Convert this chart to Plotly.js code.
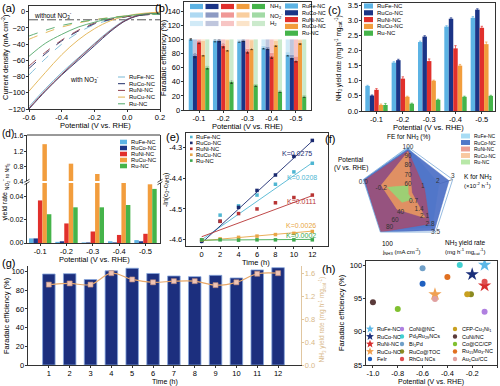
<!DOCTYPE html>
<html><head><meta charset="utf-8">
<script src="https://cdn.plot.ly/plotly-3.0.1.min.js"></script>
<style>html,body{margin:0;padding:0;background:#fff}#chart{width:500px;height:386px}</style>
</head><body><div id="chart"></div>
<script>
// ================= DATA =================
const series = ['RuFe-NC','RuCo-NC','RuNi-NC','RuCu-NC','Ru-NC'];
const potLabels = ['-0.1','-0.2','-0.3','-0.4','-0.5'];

// (a) LSV curves
const lsvV = [-0.6,-0.5,-0.4,-0.3,-0.2,-0.1,0.0,0.1,0.2];
const lsvWithRuFe = [-117,-95,-75,-57,-39,-22,-9,-3,-1.5];
const lsvWithRuCo = [-120,-98,-78,-60,-42,-24,-10,-3.5,-1.5];
const lsvWithRuNi = [-119,-97,-77,-58,-40,-23,-9.5,-3,-1.5];
const lsvWithRuCu = [-98,-75,-53,-35,-21,-11,-5,-2,-0.5];
const lsvWithRu   = [-55,-39,-28,-19,-13,-8,-5,-3,-2];
const lsvWithoutRuFe = [-78,-58,-40,-26,-16,-10,-6,-4,-3];
const lsvWithoutRuCo = [-70,-52,-36,-24,-15,-9.5,-6,-4,-3];
const lsvWithoutRuNi = [-67,-50,-35,-23,-14,-9,-6,-4,-3];
const lsvWithoutRuCu = [-34,-26,-19,-14,-10,-7,-5,-3.5,-2.5];
const lsvWithoutRu   = [-30,-23,-17,-13,-10,-7.5,-5.5,-4,-3];
const baselineV = [-0.6, 0.2];
const baselineJ = [-10, -10];

// (b) Faradaic efficiency
const feNH3RuFe = [100,98,97,88,78];
const feNH3RuCo = [77,98,98,87,74];
const feNH3RuNi = [96,91,83,76,70];
const feNH3RuCu = [78,85,87,92,95];
const feNH3Ru   = [60,40,35,26,19];
const feNO2RuFe = [0,1,1,3,4];
const feNO2RuCo = [3,1,1,3,4];
const feNO2RuNi = [2,3,4,5,6];
const feNO2RuCu = [20,14,12,6,4];
const feNO2Ru   = [3,2,2,2,2];
const feH2RuFe = [0,1,2,9,18];
const feH2RuCo = [20,1,1,10,22];
const feH2RuNi = [2,6,13,19,24];
const feH2RuCu = [2,1,1,2,1];
const feH2Ru   = [37,58,63,72,79];
const feErrRuFe = [1,1.5,1,1.5,1.5];
const feErrRuCo = [3,1.5,1,1.5,2];
const feErrRuNi = [2,3,2.5,3,2];
const feErrRuCu = [1.5,1.5,1.5,2,2];
const feErrRu   = [2,2.5,1.5,1,1];

// (c) NH3 yield rate
const yieldRuFe = [0.83,1.60,2.28,2.79,3.08];
const yieldRuCo = [0.51,1.68,2.46,3.05,3.35];
const yieldRuNi = [0.70,1.07,1.65,2.07,2.75];
const yieldRuCu = [0.20,0.47,1.00,1.50,2.21];
const yieldRu   = [0.20,0.24,0.37,0.47,0.50];
const yieldErrRuFe = [0.02,0.03,0.03,0.03,0.04];
const yieldErrRuCo = [0.02,0.03,0.03,0.03,0.03];
const yieldErrRuNi = [0.04,0.06,0.07,0.09,0.05];
const yieldErrRuCu = [0.03,0.02,0.02,0.04,0.07];
const yieldErrRu   = [0.05,0.02,0.02,0.02,0.02];

// (d) NO2- yield rate
const no2RuFe = [0.004,0.001,0.0005,0.0015,0.0025];
const no2RuCo = [0.004,0.0015,0.0005,0.0005,0.0015];
const no2RuNi = [0.037,0.017,0.010,0.007,0.008];
const no2RuCu = [1.38,0.87,0.60,0.41,0.051];
const no2Ru   = [0.025,0.031,0.031,0.033,0.047];

// (e) kinetics
const timeE = [0,2,4,6,8,10,12];
const lnRuFe = [-4.600,-4.520,-4.490,-4.455,-4.420,-4.380,-4.352];
const lnRuCo = [-4.605,-4.540,-4.495,-4.440,-4.390,-4.330,-4.278];
const lnRuNi = [-4.600,-4.540,-4.515,-4.500,-4.480,-4.463,-4.455];
const lnRuCu = [-4.600,-4.597,-4.592,-4.588,-4.583,-4.579,-4.573];
const lnRu   = [-4.600,-4.600,-4.601,-4.600,-4.600,-4.600,-4.600];
const kValues = [0.0208,0.0275,0.0111,0.0026,0.0002];
const kIntercepts = [-4.600,-4.610,-4.590,-4.603,-4.601];
const fitSpan = [0,12];

// (f) radar
const radarKeys = ['fe','k','yield','j','pot'];
const radarMin = [50,0,0,0,-0.5];
const radarMax = [100,3,3.5,100,0];
const radarRuFe = [100,2.08,3.08,95,0.0];
const radarRuCo = [98,2.75,3.35,100,0.0];
const radarRuNi = [96,1.11,2.75,100,-0.02];
const radarRuCu = [95,0.26,2.21,40,-0.2];
const radarRu   = [59,0.02,0.50,22,-0.27];
const radarTicksFE = [60,70,80,90,100];
const radarTicksK = [1,2,3];
const radarTicksYield = [0.7,1.4,2.1,2.8,3.5];
const radarTicksJ = [40,60,80];
const radarTicksPot = [-0.2,0.0];

// (g) stability
const cycles = [1,2,3,4,5,6,7,8,9,10,11,12];
const cycleFE = [97.4,97.8,91.5,100.8,103.6,98.0,95.3,94.6,96.0,93.2,101.8,104.2];
const cycleYield = [1.41,1.43,1.41,1.61,1.50,1.45,1.47,1.47,1.40,1.45,1.60,1.61];

// (h) comparison
const refNames = ['RuFe-NC','RuCo-NC','RuNi-NC','RuCu-NC','FeIr','CoNi@NC','Pd<sub>3</sub>Ru<sub>29</sub>NCs','Bi<sub>1</sub>Pd','RuCo@TOC','RhCu NCs','CFP-Cu<sub>1</sub>Ni<sub>1</sub>','CuNi/NC','Co@CC/CP','Ru<sub>15</sub>Mo<sub>3</sub>-NC','Au<sub>1</sub>Cu/CC'];
const refPotential = [-0.1,-0.2,-0.1,-0.5,-0.6,-0.1,-0.3,-0.6,-0.21,-0.1,-0.24,-1.0,-0.8,-0.4,-0.5];
const refFE = [100,98.6,96.9,95.6,97.2,93.0,100,99.5,95.6,97.5,95.6,94.4,93.4,98.2,94.9];

// ================= STYLE / LAYOUT HELPERS =================
const W = 500, H = 386;
const px = v => v / W;
const py = v => 1 - v / H;
const xd = (a, b) => [px(a), px(b)];
const yd = (top, bottom) => [py(bottom), py(top)];
const FONT = 'Liberation Sans, Arial, sans-serif';

const barColors = ['#5cb3e4','#1b3486','#e1302c','#f29d3d','#45b44a'];
const lsvColors = ['#79b9d6','#1f2d68','#8e3d4c','#e2b24e','#52a86a'];
const kinColors = ['#4fb6d2','#1a2a70','#b83434','#e8a646','#3ea84e'];
const radarFill = ['rgba(160,214,240,0.95)','rgba(72,108,196,0.9)','rgba(196,60,78,0.6)','rgba(242,160,92,0.8)','rgba(150,214,118,0.9)'];
const radarLegend = ['#a8dcf4','#5078c8','#eca094','#f8c8a0','#b8e8a8'];
const refColors = ['#5cb8e8','#1a2f7a','#d62e2e','#f0a050','#2060c0','#b080e0','#40d0d0','#70a0c8','#8a8a20','#e05050','#c8a020','#5a3a3a','#80c030','#e07020','#e0a0a0'];
const refSymbols = ['star','star','star','star','circle','circle','circle','circle','circle','circle','circle','circle','circle','circle','circle'];
const TAN = '#d8b888';

function tint(hex, f) {
  const n = parseInt(hex.slice(1), 16);
  const c = [(n >> 16) & 255, (n >> 8) & 255, n & 255].map(v => Math.round(v + (255 - v) * f));
  return `rgb(${c[0]},${c[1]},${c[2]})`;
}

const traces = [], shapes = [], annotations = [];

function label(text, x, y, opts = {}) {
  annotations.push(Object.assign({
    text, x: px(x), y: py(y), xref: 'paper', yref: 'paper', showarrow: false,
    xanchor: 'left', yanchor: 'middle', font: {size: 6, color: '#000', family: FONT}
  }, opts));
}
const xTitle = (t, x, y, size = 7.5) => label(t, x, y, {xanchor: 'center', font: {size, color: '#000', family: FONT}});
const yTitle = (t, x, y, size = 7.5, color = '#000') => label(t, x, y, {xanchor: 'center', textangle: -90, font: {size, color, family: FONT}});

function legendBlock(names, colors, kind, x0, y0, dy, sw, fs) {
  names.forEach((nm, i) => {
    const y = y0 + i * dy;
    if (kind === 'line') {
      shapes.push({type: 'line', xref: 'paper', yref: 'paper', x0: px(x0), x1: px(x0 + sw), y0: py(y), y1: py(y), line: {color: colors[i], width: 1}});
    } else if (kind === 'rect') {
      shapes.push({type: 'rect', xref: 'paper', yref: 'paper', x0: px(x0), x1: px(x0 + sw), y0: py(y + dy * 0.38), y1: py(y - dy * 0.38), fillcolor: colors[i], line: {width: 0}});
    } else if (kind === 'dot') {
      shapes.push({type: 'rect', xref: 'paper', yref: 'paper', x0: px(x0), x1: px(x0 + sw), y0: py(y + sw / 2), y1: py(y - sw / 2), fillcolor: colors[i], line: {width: 0}});
    }
    label(nm, x0 + sw + 1.5, y, {font: {size: fs, color: '#000', family: FONT}});
  });
}

function starPath(cx, cy, R) {
  let d = '';
  for (let k = 0; k < 10; k++) {
    const a = (-90 + k * 36) * Math.PI / 180, r = k % 2 ? R * 0.42 : R;
    d += (k ? ' L ' : 'M ') + px(cx + r * Math.cos(a)).toFixed(5) + ',' + py(cy + r * Math.sin(a)).toFixed(5);
  }
  return d + ' Z';
}

function axis(o) {
  return Object.assign({
    showline: true, linecolor: '#000', linewidth: 0.8, mirror: true,
    ticks: 'outside', ticklen: 2.5, tickwidth: 0.8, tickcolor: '#000', ticklabelstandoff: -1,
    showgrid: false, zeroline: false, tickfont: {size: 7.5, color: '#000', family: FONT}
  }, o);
}

// ================= (a) LSV =================
const lsvWith = [lsvWithRuFe, lsvWithRuCo, lsvWithRuNi, lsvWithRuCu, lsvWithRu];
const lsvWithout = [lsvWithoutRuFe, lsvWithoutRuCo, lsvWithoutRuNi, lsvWithoutRuCu, lsvWithoutRu];
traces.push({type: 'scatter', mode: 'lines', x: baselineV, y: baselineJ, xaxis: 'x', yaxis: 'y',
  line: {color: '#555', width: 1, dash: 'dashdot'}, showlegend: false, hoverinfo: 'skip'});
series.forEach((s, i) => {
  traces.push({type: 'scatter', mode: 'lines', name: s + ' without NO3-', x: lsvV, y: lsvWithout[i], xaxis: 'x', yaxis: 'y',
    line: {color: lsvColors[i], width: 0.9, dash: 'dash', shape: 'spline'}, showlegend: false});
});
series.forEach((s, i) => {
  traces.push({type: 'scatter', mode: 'lines', name: s, x: lsvV, y: lsvWith[i], xaxis: 'x', yaxis: 'y',
    line: {color: lsvColors[i], width: 0.9, shape: 'spline'}, showlegend: false});
});

// ================= (b) FE stacked+grouped =================
const feNH3 = [feNH3RuFe, feNH3RuCo, feNH3RuNi, feNH3RuCu, feNH3Ru];
const feNO2 = [feNO2RuFe, feNO2RuCo, feNO2RuNi, feNO2RuCu, feNO2Ru];
const feH2 = [feH2RuFe, feH2RuCo, feH2RuNi, feH2RuCu, feH2Ru];
const feErr = [feErrRuFe, feErrRuCo, feErrRuNi, feErrRuCu, feErrRu];
series.forEach((s, i) => {
  const base2 = feNH3[i].map((v, k) => v + feNO2[i][k]);
  traces.push({type: 'bar', name: s + ' NH3', x: potLabels, y: feNH3[i], xaxis: 'x2', yaxis: 'y2', offsetgroup: 'b' + i,
    marker: {color: barColors[i], line: {width: 0}}, showlegend: false,
    error_y: {type: 'data', array: feErr[i], thickness: 0.7, width: 1.2, color: '#222'}});
  traces.push({type: 'bar', name: s + ' NO2-', x: potLabels, y: feNO2[i], base: feNH3[i], xaxis: 'x2', yaxis: 'y2', offsetgroup: 'b' + i,
    marker: {color: tint(barColors[i], 0.5), line: {width: 0}}, showlegend: false});
  traces.push({type: 'bar', name: s + ' H2', x: potLabels, y: feH2[i], base: base2, xaxis: 'x2', yaxis: 'y2', offsetgroup: 'b' + i,
    marker: {color: tint(barColors[i], 0.72), line: {width: 0}}, showlegend: false});
});

// ================= (c) yield =================
const yields = [yieldRuFe, yieldRuCo, yieldRuNi, yieldRuCu, yieldRu];
const yieldErr = [yieldErrRuFe, yieldErrRuCo, yieldErrRuNi, yieldErrRuCu, yieldErrRu];
series.forEach((s, i) => {
  traces.push({type: 'bar', name: s, x: potLabels, y: yields[i], xaxis: 'x3', yaxis: 'y3',
    marker: {color: barColors[i], line: {width: 0}}, showlegend: false,
    error_y: {type: 'data', array: yieldErr[i], thickness: 0.7, width: 1.2, color: barColors[i]}});
});

// ================= (d) NO2- yield, broken axis =================
const no2 = [no2RuFe, no2RuCo, no2RuNi, no2RuCu, no2Ru];
series.forEach((s, i) => {
  traces.push({type: 'bar', name: s, x: potLabels, y: no2[i], xaxis: 'x4', yaxis: 'y4',
    marker: {color: barColors[i], line: {width: 0}}, showlegend: false});
  traces.push({type: 'bar', name: s, x: potLabels, y: no2[i], xaxis: 'x4', yaxis: 'y5',
    marker: {color: barColors[i], line: {width: 0}}, showlegend: false});
});

// ================= (e) kinetics =================
const lnSets = [lnRuFe, lnRuCo, lnRuNi, lnRuCu, lnRu];
series.forEach((s, i) => {
  traces.push({type: 'scatter', mode: 'lines', x: fitSpan, y: fitSpan.map(t => kIntercepts[i] + kValues[i] * t),
    xaxis: 'x5', yaxis: 'y6', line: {color: kinColors[i], width: 0.9}, showlegend: false, hoverinfo: 'skip'});
  traces.push({type: 'scatter', mode: 'markers', name: s, x: timeE, y: lnSets[i], xaxis: 'x5', yaxis: 'y6',
    marker: {color: kinColors[i], size: 3.5, symbol: 'square'}, showlegend: false});
});
const kLabelT = [10.9, 10.3, 10.8, 10.8, 10.8];
const kLabelY = [-4.398, -4.322, -4.476, -4.553, -4.585];
series.forEach((s, i) => {
  annotations.push({text: 'K=' + kValues[i].toFixed(4), x: kLabelT[i], y: kLabelY[i], xref: 'x5', yref: 'y6', showarrow: false,
    xanchor: 'center', yanchor: 'middle', font: {size: 7, color: kinColors[i], family: FONT}});
});

// ================= (f) radar =================
const radarSets = [radarRuFe, radarRuCo, radarRuNi, radarRuCu, radarRu];
const norm = (v, a) => (v - radarMin[a]) / (radarMax[a] - radarMin[a]);
series.forEach((s, i) => {
  const r = radarSets[i].map((v, a) => norm(v, a));
  traces.push({type: 'scatterpolar', mode: 'lines', name: s, r: r.concat([r[0]]), theta: radarKeys.concat([radarKeys[0]]),
    fill: 'toself', fillcolor: radarFill[i], line: {color: radarFill[i], width: 0.5}, showlegend: false});
});
const tickSets = [
  [radarTicksFE, 0, v => String(v), 'middle center'],
  [radarTicksK, 1, v => String(v), 'top center'],
  [radarTicksYield, 2, v => v.toFixed(1), 'middle center'],
  [radarTicksJ, 3, v => String(v), 'bottom right'],
  [radarTicksPot, 4, v => v.toFixed(1), 'bottom center']];
tickSets.forEach(([vals, a, f, pos]) => {
  traces.push({type: 'scatterpolar', mode: 'text', r: vals.map(v => norm(v, a)), theta: vals.map(() => radarKeys[a]),
    text: vals.map(f), textposition: pos,
    textfont: {size: 6.5, color: '#333', family: FONT}, showlegend: false, hoverinfo: 'skip', cliponaxis: false});
});

// ================= (g) stability =================
traces.push({type: 'bar', name: 'Faradaic efficiency', x: cycles, y: cycleFE, xaxis: 'x6', yaxis: 'y7', width: 0.6,
  marker: {color: '#1c2f7e', line: {color: '#86a6dc', width: 0.8}}, showlegend: false});
traces.push({type: 'scatter', mode: 'lines+markers', name: 'NH3 yield rate', x: cycles, y: cycleYield, xaxis: 'x6', yaxis: 'y8',
  line: {color: '#e8a868', width: 1.2, shape: 'spline'}, marker: {symbol: 'square', size: 5, color: '#f0c4b4', line: {color: '#b8887a', width: 0.6}}, showlegend: false});

// ================= (h) comparison =================
refNames.forEach((n, i) => {
  traces.push({type: 'scatter', mode: 'markers', name: n, x: [refPotential[i]], y: [refFE[i]], xaxis: 'x7', yaxis: 'y9',
    marker: {symbol: refSymbols[i], color: refColors[i], size: refSymbols[i] === 'star' ? 10 : 6, line: {width: 0}}, showlegend: false});
});

// ================= LEGENDS (custom, compact) =================
legendBlock(series, lsvColors, 'line', 118, 77, 6.7, 7, 6);
legendBlock(series, barColors, 'rect', 285, 6, 6.8, 13, 5.5);
legendBlock(series, barColors, 'rect', 364, 6, 6.8, 9, 6);
legendBlock(series, barColors, 'rect', 120, 142, 6.0, 7, 5.8);
legendBlock(series, kinColors, 'dot', 190, 137, 5.9, 2.6, 5.8);
legendBlock(series, radarLegend, 'rect', 461, 136, 6.5, 9, 5);
// (b) product swatch grid
const products = ['NH<sub>3</sub>', 'NO<sub>2</sub><sup>-</sup>', 'H<sub>2</sub>'];
const productTint = [0, 0.5, 0.72];
products.forEach((p, r) => {
  const yc = 6.5 + r * 8.5;
  barColors.forEach((c, j) => {
    const x0 = 190 + j * 15.5;
    shapes.push({type: 'rect', xref: 'paper', yref: 'paper', x0: px(x0), x1: px(x0 + 13), y0: py(yc + 2.6), y1: py(yc - 2.6),
      fillcolor: tint(c, productTint[r]), line: {width: 0}});
  });
  label(p, 268, yc, {font: {size: 6, color: '#000', family: FONT}});
});
// (h) three-column legend (symbols drawn as shapes)
const hCols = [370, 402, 455];
refNames.forEach((n, i) => {
  const col = Math.floor(i / 5), row = i % 5;
  const x = hCols[col], y = 329 + row * 7.5;
  if (refSymbols[i] === 'star') {
    shapes.push({type: 'path', xref: 'paper', yref: 'paper', path: starPath(x, y, 4.2), fillcolor: refColors[i], line: {width: 0}});
  } else {
    shapes.push({type: 'circle', xref: 'paper', yref: 'paper', x0: px(x - 2.2), x1: px(x + 2.2), y0: py(y + 2.2), y1: py(y - 2.2), fillcolor: refColors[i], line: {width: 0}});
  }
  label(n, x + 4.5, y, {font: {size: 5.5, color: '#000', family: FONT}});
});

// ================= TEXT LABELS =================
const panelNames = ['(a)', '(b)', '(c)', '(d)', '(e)', '(f)', '(g)', '(h)'];
const panelPos = [[0, 0], [153, 0], [326, 2], [0, 126], [164, 129], [323, 131], [0, 255], [320, 261]];
panelNames.forEach((t, i) => {
  label(t, panelPos[i][0], panelPos[i][1], {yanchor: 'top', font: {size: i === 3 ? 10 : 11, color: '#000', family: FONT}});
});
label('without NO<sub>3</sub><sup>-</sup>', 32, 15, {font: {size: 6.5, color: '#000', family: FONT}});
label('with NO<sub>3</sub><sup>-</sup>', 68, 79, {font: {size: 6.5, color: '#000', family: FONT}});

// axis titles
xTitle('Potential (V vs. RHE)', 95, 125.5);
yTitle('Current density (mA cm<sup>-2</sup>)', 5, 57, 7.5);
xTitle('Potential (V vs. RHE)', 247, 126.5);
yTitle('Faradaic efficiency (%)', 164, 58);
xTitle('Potential (V vs. RHE)', 428, 127);
yTitle('NH<sub>3</sub> yield rate (mg h<sup>-1</sup> mg<sub>cat</sub><sup>-1</sup>)', 339, 58, 6.5);
xTitle('Potential (V vs. RHE)', 94, 259.5);
yTitle('yield rate <sub>NO<sub>2</sub></sub><sup>-</sup><sub> to NH<sub>3</sub></sub>', 5.5, 192, 7);
xTitle('Time (h)', 256, 262);
yTitle('-ln(c<sub>0</sub>-c<sub>NH3</sub>)', 166, 190, 7);
xTitle('Time (h)', 165, 381.5, 7);
yTitle('Faradaic efficiency (%)', 6, 316);
yTitle('NH<sub>3</sub> yield rate (mg h<sup>-1</sup> mg<sub>cat</sub><sup>-1</sup>)', 321.5, 320, 6.5, TAN);
xTitle('Potential (V vs. RHE)', 431, 381.5, 7);
yTitle('Faradaic efficiency (%)', 341, 313);

// radar axis titles
label('FE for NH<sub>3</sub> (%)', 408, 137, {xanchor: 'center', font: {size: 6.5, color: '#000', family: FONT}});
label('Potential', 351, 160, {xanchor: 'center', font: {size: 6.5, color: '#000', family: FONT}});
label('(V vs. RHE)', 351, 168, {xanchor: 'center', font: {size: 6.5, color: '#000', family: FONT}});
label('K for NH<sub>3</sub>', 462, 177, {font: {size: 6.5, color: '#000', family: FONT}});
label('(×10<sup>-2</sup> h<sup>-1</sup>)', 462, 185, {font: {size: 6, color: '#000', family: FONT}});
label('NH<sub>3</sub> yield rate', 443, 243, {font: {size: 6.5, color: '#000', family: FONT}});
label('(mg h<sup>-1</sup> mg<sub>cat</sub><sup>-1</sup>)', 443, 251, {font: {size: 6, color: '#000', family: FONT}});
label('100', 380, 243, {font: {size: 6.5, color: '#000', family: FONT}});
label('j<sub>NH3</sub> (mA cm<sup>-2</sup>)', 380, 251, {font: {size: 6, color: '#000', family: FONT}});

// (d) broken-axis decorations
shapes.push({type: 'line', xref: 'x4 domain', yref: 'y5 domain', x0: 0, x1: 1, y0: 1, y1: 1, line: {color: '#000', width: 0.8}});
shapes.push({type: 'line', xref: 'x4 domain', yref: 'y5 domain', x0: -0.02, x1: 1.02, y0: 0, y1: 0, line: {color: '#fff', width: 2}});
[27, 160].forEach(xb => {
  [-1.2, 1.2].forEach(o => shapes.push({type: 'line', xref: 'paper', yref: 'paper', x0: px(xb - 2.5), x1: px(xb + 2.5), y0: py(182 + o + 1.5), y1: py(182 + o - 1.5), line: {color: '#000', width: 0.7}}));
});

// ================= LAYOUT =================
const catTicks = {type: 'category', tickvals: potLabels, ticktext: potLabels};
const layout = {
  width: W, height: H, margin: {l: 0, r: 0, t: 0, b: 0}, paper_bgcolor: '#fff', plot_bgcolor: 'rgba(0,0,0,0)',
  font: {family: FONT, size: 8, color: '#000'}, showlegend: false, barmode: 'group', bargap: 0.15, bargroupgap: 0,
  // (a)
  xaxis: axis({domain: xd(29, 160), range: [-0.6, 0.2], anchor: 'y', tickvals: [-0.6, -0.4, -0.2, 0, 0.2], ticktext: ['-0.6', '-0.4', '-0.2', '0.0', '0.2']}),
  yaxis: axis({domain: yd(6, 109), range: [-120, 7], anchor: 'x', tickvals: [0, -20, -40, -60, -80, -100, -120]}),
  // (b)
  xaxis2: axis(Object.assign({domain: xd(184, 311), range: [-0.62, 4.62], anchor: 'y2'}, catTicks)),
  yaxis2: axis({domain: yd(2, 110), range: [0, 153], anchor: 'x2', tickvals: [0, 20, 40, 60, 80, 100, 120, 140]}),
  // (c)
  xaxis3: axis(Object.assign({domain: xd(362, 495), range: [-0.55, 4.5], anchor: 'y3'}, catTicks)),
  yaxis3: axis({domain: yd(3, 111), range: [0, 3.57], anchor: 'x3', tickvals: [0, 0.5, 1, 1.5, 2, 2.5, 3, 3.5], ticktext: ['0.0', '0.5', '1.0', '1.5', '2.0', '2.5', '3.0', '3.5']}),
  // (d)
  xaxis4: axis(Object.assign({domain: xd(27, 160), range: [-0.5, 4.55], anchor: 'y4', mirror: false}, catTicks)),
  yaxis4: axis({domain: yd(182, 243), range: [0, 0.053], anchor: 'x4', tickvals: [0, 0.02, 0.04], ticktext: ['0.00', '0.02', '0.04'], tickfont: {size: 7, color: '#000', family: FONT}}),
  yaxis5: axis({domain: yd(135, 182), range: [0.39, 1.62], anchor: 'x4', tickvals: [0.4, 0.8, 1.2, 1.6], ticktext: ['0.4', '0.8', '1.2', '1.6'], tickfont: {size: 7, color: '#000', family: FONT}}),
  // (e)
  xaxis5: axis({domain: xd(186, 328), range: [-1.7, 13.7], anchor: 'y6', tickvals: [0, 2, 4, 6, 8, 10, 12]}),
  yaxis6: axis({domain: yd(133, 246), range: [-4.62, -4.254], anchor: 'x5', tickvals: [-4.6, -4.5, -4.4, -4.3], ticktext: ['-4.6', '-4.5', '-4.4', '-4.3']}),
  // (g)
  xaxis6: axis({domain: xd(28, 301), range: [0, 13.1], anchor: 'y7', mirror: false, tickvals: cycles}),
  yaxis7: axis({domain: yd(266, 365), range: [0, 106], anchor: 'x6', mirror: false, tickvals: [0, 20, 40, 60, 80, 100]}),
  yaxis8: axis({overlaying: 'y7', side: 'right', range: [0, 1.736], anchor: 'x6', mirror: false, linecolor: TAN, tickcolor: TAN,
    tickvals: [0, 0.4, 0.8, 1.2, 1.6], ticktext: ['0.0', '0.4', '0.8', '1.2', '1.6'], tickfont: {size: 7.5, color: TAN, family: FONT}}),
  // (h)
  xaxis7: axis({domain: xd(366, 497), range: [-1.056, 0], anchor: 'y9', tickvals: [-1, -0.8, -0.6, -0.4, -0.2, 0], ticktext: ['-1.0', '-0.8', '-0.6', '-0.4', '-0.2', '0.0']}),
  yaxis9: axis({domain: yd(261, 365), range: [85, 100.6], anchor: 'x7', tickvals: [85, 90, 95, 100]}),
  // (f)
  polar: {
    domain: {x: xd(361, 455), y: yd(147, 241)}, gridshape: 'linear', bgcolor: 'rgba(0,0,0,0)',
    radialaxis: {range: [0, 1], showline: false, showgrid: false, showticklabels: false, ticks: ''},
    angularaxis: {type: 'category', categoryarray: radarKeys, rotation: 90, direction: 'clockwise', showticklabels: false, ticks: '',
      showgrid: true, gridcolor: '#444', gridwidth: 0.6, showline: true, linecolor: '#7aa8d8', linewidth: 0.8}
  },
  shapes, annotations
};

Plotly.newPlot('chart', traces, layout, {staticPlot: true, displayModeBar: false});
</script>
</body></html>
